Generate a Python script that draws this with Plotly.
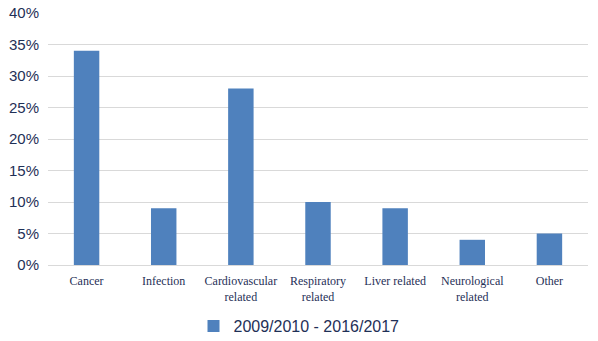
import plotly.graph_objects as go

categories = ["Cancer", "Infection", "Cardiovascular<br>related", "Respiratory<br>related",
              "Liver related", "Neurological<br>related", "Other"]
values = [0.34, 0.09, 0.28, 0.10, 0.09, 0.04, 0.05]
series_name = "2009/2010 - 2016/2017"
tick_vals = [0, 0.05, 0.10, 0.15, 0.20, 0.25, 0.30, 0.35, 0.40]
tick_text = ["0%", "5%", "10%", "15%", "20%", "25%", "30%", "35%", "40%"]

text_color = "#1f3057"

fig = go.Figure()
fig.add_trace(go.Bar(x=categories, y=values, name=series_name,
                     marker=dict(color="#4f81bd", line=dict(width=0)),
                     width=0.33, showlegend=True))

fig.update_layout(
    width=598, height=341,
    margin=dict(l=48, r=10, t=13, b=76, autoexpand=False),
    paper_bgcolor="white", plot_bgcolor="white",
    showlegend=True,
    legend=dict(orientation="h", x=0.5, xanchor="center", xref="container",
                y=0.044, yanchor="middle", yref="container",
                font=dict(family="Liberation Sans, Arial, sans-serif", size=16, color=text_color),
                itemwidth=30),
    xaxis=dict(type="category", showgrid=False, showline=True, linecolor="#d9d9d9",
               linewidth=1, ticks="", automargin=False, ticklabelstandoff=5,
               tickfont=dict(family="Liberation Serif, DejaVu Serif, serif", size=12, color=text_color)),
    yaxis=dict(range=[0, 0.40], tickvals=tick_vals, ticktext=tick_text,
               showgrid=True, gridcolor="#d9d9d9", gridwidth=1, zeroline=False,
               showline=False, ticks="", ticklabelstandoff=8, automargin=False,
               tickfont=dict(family="Liberation Sans, Arial, sans-serif", size=15, color=text_color)),
    bargap=0.67,
)

fig.write_html("out.html")
